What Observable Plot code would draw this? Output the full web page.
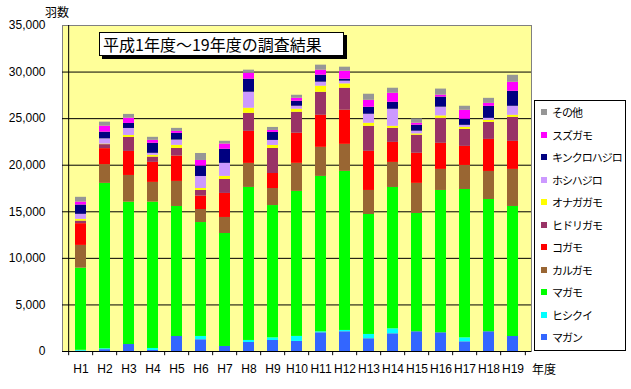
<!DOCTYPE html>
<html><head><meta charset="utf-8">
<script src="https://cdn.jsdelivr.net/npm/d3@7"></script>
<script src="https://cdn.jsdelivr.net/npm/@observablehq/plot@0.6"></script>
<style>
body{margin:0;background:#fff;}
#wrap{position:relative;width:631px;height:389px;overflow:hidden;background:#fff;}
#wrap svg{position:absolute;left:0;top:0;}
.jp{font-family:"Noto Sans CJK JP","Noto Sans",sans-serif;position:absolute;white-space:nowrap;color:#000;}
#title{left:99px;top:32px;width:240px;height:22px;border:1px solid #000;background:#fff;box-shadow:3px 3px 0 #000;font-size:16px;line-height:22px;padding-left:3px;box-sizing:content-box;}
#legend{left:534px;top:100px;width:90px;height:249px;border:1px solid #000;background:#fff;}
.li{position:absolute;left:0;font-size:11px;line-height:12px;letter-spacing:-1px;}
.sw{position:absolute;left:6px;width:6px;height:6px;}
</style></head><body>
<div id="wrap"></div>
<script>
const years = ["H1","H2","H3","H4","H5","H6","H7","H8","H9","H10","H11","H12","H13","H14","H15","H16","H17","H18","H19"];
const species = ["マガン","ヒシクイ","マガモ","カルガモ","コガモ","ヒドリガモ","オナガガモ","ホシハジロ","キンクロハジロ","スズガモ","その他"];
const colors = ["#3366ff","#00ffff","#00ff00","#996633","#ff0000","#993366","#ffff00","#cc99ff","#000080","#ff00ff","#969696"];
const yTicks = [0,5000,10000,15000,20000,25000,30000,35000];

const magan    = [30,200,750,110,1610,1260,540,970,1180,1080,2010,2120,1370,1900,2120,2010,1040,2120,1610];
const hishikui = [100,100,0,215,0,355,0,215,290,540,108,140,460,540,0,0,430,0,0];
const magamo   = [8820,17750,15280,15710,13960,12230,12130,16430,14200,15570,16680,17080,12880,15170,12700,15280,15925,14200,13960];
const karugamo = [2440,2010,2870,2120,2690,1400,1720,2580,1830,3010,3120,2900,2580,2690,3230,2260,2580,3010,3980];
const kogamo   = [2335,1720,2580,2150,2720,1430,2580,3440,1610,3230,3440,3660,4200,2150,3230,2800,2045,3440,3010];
const hidori   = [280,430,1500,570,830,610,1510,1940,2690,2260,2475,2370,2690,1510,1940,2690,1830,1830,2580];
const onaga    = [183,50,215,185,320,215,320,540,320,320,650,460,320,215,140,250,215,215,215];
const hoshi    = [538,570,750,215,570,1290,1400,1720,540,320,430,290,970,1830,290,940,215,215,970];
const kinkuro  = [1000,720,540,1080,720,1110,1510,1400,860,540,750,215,750,750,645,1080,650,1290,1610];
const suzugamo = [322,645,570,320,215,610,570,650,215,320,540,860,750,970,215,215,970,320,970];
const sonota   = [506,430,400,320,320,750,290,320,320,320,540,430,650,540,460,650,430,540,750];

const series = [magan,hishikui,magamo,karugamo,kogamo,hidori,onaga,hoshi,kinkuro,suzugamo,sonota];
const table = [];
series.forEach((vals, i) => vals.forEach((v, j) => table.push({year: years[j], species: species[i], value: v})));

const W = 631, H = 389, mL = 62, mR = 100, mT = 25, mB = 38;
const step = (W - mL - mR) / years.length;

const chart = Plot.plot({
  width: W, height: H,
  marginLeft: mL, marginRight: mR, marginTop: mT, marginBottom: mB,
  style: {fontFamily: "'Liberation Sans', Arial, sans-serif", fontSize: "12px", background: "transparent", color: "#000"},
  x: {domain: years, paddingInner: 0.554, paddingOuter: 0.277, label: null, tickSize: 0, tickPadding: 13},
  y: {domain: [0, 35000], ticks: yTicks, tickFormat: d3.format(","), label: null, tickSize: 0, tickPadding: 17},
  color: {domain: species, range: colors},
  marks: [
    Plot.frame({fill: "#ffff99", stroke: "#808080"}),
    Plot.ruleY(yTicks.filter(d => d > 0 && d < 35000), {stroke: "#000"}),
    Plot.barY(table, {x: "year", y: "value", fill: "species"}),
    Plot.ruleY([0], {stroke: "#000"}),
    Plot.ruleX([years[0]], {y1: 0, y2: 35000, dx: -step / 2, stroke: "#000"}),
    Plot.ruleX(years, {y1: 0, y2: -450, dx: -step / 2, stroke: "#000"}),
    Plot.ruleX([years[years.length - 1]], {y1: 0, y2: -450, dx: step / 2, stroke: "#000"})
  ]
});
const wrap = document.getElementById("wrap");
wrap.appendChild(chart);

function addDiv(cls, id, text, css) {
  const d = document.createElement("div");
  d.className = cls; if (id) d.id = id;
  d.textContent = text || "";
  Object.assign(d.style, css || {});
  return d;
}
wrap.appendChild(addDiv("jp", "title", "平成1年度～19年度の調査結果"));
wrap.appendChild(addDiv("jp", null, "羽数", {left: "45px", top: "6px", fontSize: "12px", lineHeight: "12px"}));
wrap.appendChild(addDiv("jp", null, "年度", {left: "532px", top: "363px", fontSize: "12px", lineHeight: "12px"}));

const legend = addDiv("jp", "legend");
const items = species.slice().reverse();
const cols = colors.slice().reverse();
items.forEach((name, i) => {
  const cy = 11.3 + i * 22.5;
  const sw = addDiv("sw", null, "", {top: (cy - 3) + "px", background: cols[i]});
  const tx = addDiv("li", null, name, {left: "17px", top: (cy - 6) + "px"});
  legend.appendChild(sw); legend.appendChild(tx);
});
wrap.appendChild(legend);
</script>
</body></html>
